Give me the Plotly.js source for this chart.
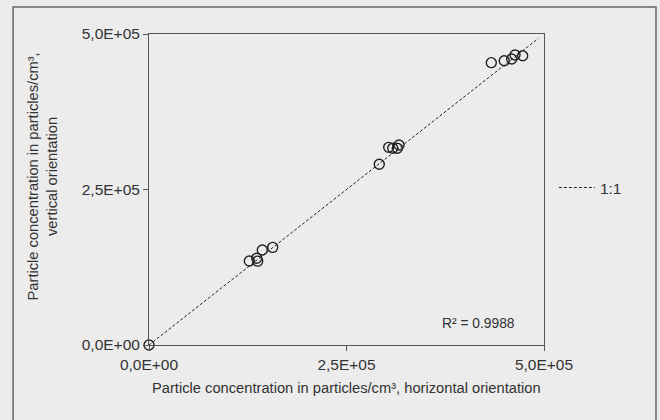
<!DOCTYPE html>
<html>
<head>
<meta charset="utf-8">
<script src="https://cdn.plot.ly/plotly-3.0.1.min.js"></script>
<style>html,body{margin:0;padding:0;background:#ececec;}</style>
</head>
<body>
<div id="chart" style="width:660px;height:420px;"></div>
<script>
// Measured data: horizontal vs vertical orientation (particles/cm³)
const horizontal = [0, 127000, 136300, 137600, 143400, 156600, 291500, 303400, 308500, 314300, 316500, 433300, 449700, 459100, 463300, 473000];
const vertical   = [0, 135000, 139400, 134800, 152700, 157000, 290500, 317800, 316200, 316200, 321500, 453900, 457100, 459800, 466200, 465100];
const oneToOneX = [0, 493000];
const oneToOneY = [0, 493000];
const tickVals = [0, 250000, 500000];
const tickLabels = ["0,0E+00", "2,5E+05", "5,0E+05"];
const xTitle = "Particle concentration in particles/cm³, horizontal orientation";
const yTitle = "Particle concentration in particles/cm³,<br>vertical orientation";
const r2Text = "R² = 0.9988";
const legendLabel = "1:1";

const font = "Liberation Sans, Arial, sans-serif";
const traces = [
  {
    x: oneToOneX, y: oneToOneY, mode: "lines", name: legendLabel,
    line: {color: "#222", width: 1, dash: "3px,2px"}, showlegend: true
  },
  {
    x: horizontal, y: vertical, mode: "markers", showlegend: false, cliponaxis: false,
    marker: {symbol: "circle-open", size: 10, color: "#222", line: {width: 1.4, color: "#222"}}
  }
];
const axisCommon = {
  range: [0, 500000], tickvals: tickVals, ticktext: tickLabels,
  showgrid: false, zeroline: false, showline: true, mirror: true,
  linecolor: "#555", linewidth: 1, ticks: "outside", ticklen: 5, tickcolor: "#555",
  tickfont: {family: font, size: 15.5, color: "#333"}
};
const layout = {
  width: 660, height: 420,
  margin: {l: 149, r: 116, t: 34, b: 75},
  paper_bgcolor: "#ececec", plot_bgcolor: "#ececec",
  font: {family: font, color: "#333"},
  xaxis: Object.assign({}, axisCommon),
  yaxis: Object.assign({}, axisCommon),
  legend: {
    x: 1.025, xanchor: "left", y: 0.505, yanchor: "middle", itemwidth: 36,
    bgcolor: "rgba(0,0,0,0)", font: {family: font, size: 15.5, color: "#333"}
  },
  annotations: [
    {xref: "paper", yref: "paper", x: 0.5, y: -0.138, xanchor: "center", yanchor: "middle",
     text: xTitle, showarrow: false, font: {family: font, size: 14.7, color: "#333"}},
    {xref: "paper", yref: "paper", x: -0.27, y: 0.543, xanchor: "center", yanchor: "middle",
     textangle: -90, text: yTitle, showarrow: false, font: {family: font, size: 14.7, color: "#333"}},
    {xref: "paper", yref: "paper", x: 0.932, y: 0.068, xanchor: "right", yanchor: "middle",
     text: r2Text, showarrow: false, font: {family: font, size: 13.8, color: "#333"}}
  ],
  shapes: [
    {type: "rect", xref: "paper", yref: "paper", x0: -0.344, x1: 1.2835, y0: -0.26, y1: 1.0868,
     line: {color: "#666", width: 1.5}, fillcolor: "rgba(0,0,0,0)", layer: "below"}
  ]
};
Plotly.newPlot("chart", traces, layout, {displayModeBar: false, staticPlot: true});
</script>
</body>
</html>
